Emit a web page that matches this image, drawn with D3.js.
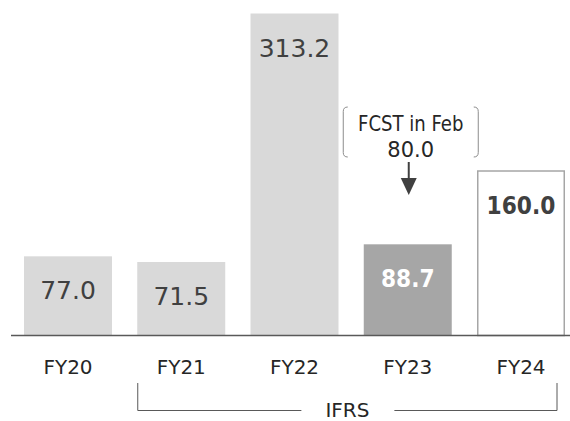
<!DOCTYPE html>
<html>
<head>
<meta charset="utf-8">
<script src="https://cdn.jsdelivr.net/npm/d3@7/dist/d3.min.js"></script>
<style>
  html, body { margin: 0; padding: 0; background: #fff; }
  svg { display: block; font-family: "DejaVu Sans", Verdana, sans-serif; }
</style>
</head>
<body>
<svg id="chart" width="570" height="421"></svg>
<script>
// Fiscal years and reported values
const categories = ["FY20", "FY21", "FY22", "FY23", "FY24"];
const values = [77.0, 71.5, 313.2, 88.7, 160.0];
const valueLabels = ["77.0", "71.5", "313.2", "88.7", "160.0"];
// Bar style per year: actual (light), latest actual (dark), forecast (outlined)
const barKinds = ["actual", "actual", "actual", "latest", "forecast"];
// Forecast announced in February for FY23
const fcstYear = "FY23";
const fcstTitle = "FCST in Feb";
const fcstValue = 80.0;
// Years reported under IFRS
const ifrsYears = ["FY21", "FY24"];
const ifrsLabel = "IFRS";

const svg = d3.select("#chart");
const baseY = 335.5;

const x = d3.scaleBand()
  .domain(categories)
  .range([24, 565])
  .paddingInner(0.223)
  .paddingOuter(0);

const y = d3.scaleLinear()
  .domain([0, d3.max(values)])
  .range([baseY, 13.5]);

const data = categories.map((c, i) => ({ cat: c, value: values[i], label: valueLabels[i], kind: barKinds[i] }));

const fillFor = { actual: "#d9d9d9", latest: "#a6a6a6", forecast: "#ffffff" };

// Bars
svg.append("g").selectAll("rect")
  .data(data)
  .join("rect")
  .attr("x", d => x(d.cat) + (d.kind === "forecast" ? 0.75 : 0))
  .attr("y", d => y(d.value))
  .attr("width", d => x.bandwidth() - (d.kind === "forecast" ? 1.5 : 0))
  .attr("height", d => baseY - y(d.value))
  .attr("fill", d => fillFor[d.kind])
  .attr("stroke", d => d.kind === "forecast" ? "#a6a6a6" : "none")
  .attr("stroke-width", 1.5);

// Value labels inside the bars, a fixed distance below each bar top
const labels = svg.append("g").selectAll("text")
  .data(data)
  .join("text")
  .attr("x", d => x(d.cat) + x.bandwidth() / 2)
  .attr("y", d => y(d.value) + 43)
  .attr("text-anchor", "middle")
  .attr("font-size", 25)
  .attr("font-weight", d => d.kind === "actual" ? "normal" : "bold")
  .attr("fill", d => d.kind === "latest" ? "#ffffff" : "#404040")
  .text(d => d.label);

// Bold figures are set a little narrower
labels.filter(d => d.kind !== "actual").each(function () {
  const w = this.getComputedTextLength();
  d3.select(this).attr("textLength", w * 0.87).attr("lengthAdjust", "spacingAndGlyphs");
});

// Baseline
svg.append("line")
  .attr("x1", 11).attr("x2", 570)
  .attr("y1", baseY).attr("y2", baseY)
  .attr("stroke", "#595959")
  .attr("stroke-width", 1.5);

// Category axis
const xAxis = svg.append("g")
  .attr("transform", `translate(0,${baseY})`)
  .call(d3.axisBottom(x).tickSize(0).tickPadding(0));
xAxis.select(".domain").remove();
xAxis.selectAll("text")
  .attr("y", 38.5)
  .attr("dy", null)
  .attr("font-family", "DejaVu Sans, Verdana, sans-serif")
  .attr("font-size", 20)
  .attr("fill", "#262626");

// Forecast callout above the FY23 bar
const cx = x(fcstYear) + x.bandwidth() / 2 + 3;
const callout = svg.append("g");
const bTop = 107, bBot = 157, bHalf = 67.5, hook = 4.5;
const bracket = side => {
  const bx = cx + side * bHalf;
  return `M${bx - side * hook},${bTop} Q${bx},${bTop} ${bx},${bTop + hook} L${bx},${bBot - hook} Q${bx},${bBot} ${bx - side * hook},${bBot}`;
};
[-1, 1].forEach(s => callout.append("path")
  .attr("d", bracket(s))
  .attr("fill", "none")
  .attr("stroke", "#8c8c8c")
  .attr("stroke-width", 1));

const t1 = callout.append("text")
  .attr("x", cx).attr("y", 131)
  .attr("text-anchor", "middle")
  .attr("font-size", 21)
  .attr("fill", "#262626")
  .text(fcstTitle);
t1.attr("textLength", t1.node().getComputedTextLength() * 0.86).attr("lengthAdjust", "spacingAndGlyphs");

callout.append("text")
  .attr("x", cx).attr("y", 156.5)
  .attr("text-anchor", "middle")
  .attr("font-size", 21)
  .attr("fill", "#262626")
  .text(d3.format(".1f")(fcstValue));

const ax = cx - 2;
callout.append("line")
  .attr("x1", ax).attr("x2", ax)
  .attr("y1", 162).attr("y2", 179)
  .attr("stroke", "#404040")
  .attr("stroke-width", 2);
callout.append("path")
  .attr("d", `M${ax - 8},178 L${ax + 8},178 L${ax},195 Z`)
  .attr("fill", "#404040");

// IFRS bracket under FY21–FY24
const lx = x(ifrsYears[0]) + 0.5;
const rx = x(ifrsYears[1]) + x.bandwidth() - 8;
const midX = (lx + rx) / 2;
const ly = 410.5;
const ifrs = svg.append("g").attr("stroke", "#595959").attr("stroke-width", 1).attr("fill", "none");
ifrs.append("path").attr("d", `M${lx},383 L${lx},${ly} L${midX - 46},${ly}`);
ifrs.append("path").attr("d", `M${midX + 47},${ly} L${rx},${ly} L${rx},383`);
svg.append("text")
  .attr("x", midX).attr("y", 416.5)
  .attr("text-anchor", "middle")
  .attr("font-size", 20)
  .attr("fill", "#262626")
  .text(ifrsLabel);
</script>
</body>
</html>
